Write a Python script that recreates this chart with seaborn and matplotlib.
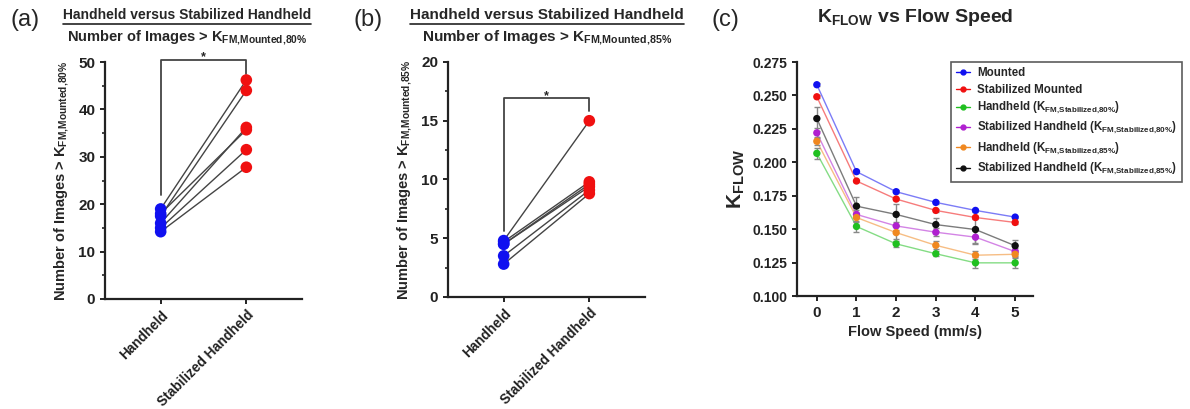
import numpy as np
import pandas as pd
import matplotlib
matplotlib.use('Agg')
import matplotlib.pyplot as plt
from matplotlib.lines import Line2D
from matplotlib.ticker import MultipleLocator
import seaborn as sns

# ── data ──────────────────────────────────────────────────────────
groups = ['Handheld', 'Stabilized Handheld']

# (a) images > K_FM,Mounted,80%
handheld_80 = [19.0, 17.5, 16.0, 18.0, 15.0, 14.2]
stab_handheld_80 = [46.2, 44.0, 36.2, 35.7, 31.5, 27.8]

# (b) images > K_FM,Mounted,85%
handheld_85 = [4.8, 4.7, 4.5, 4.5, 3.5, 2.8]
stab_handheld_85 = [15.0, 9.8, 9.6, 9.4, 9.1, 8.8]

# (c) K_FLOW vs flow speed
flow_speed = [0, 1, 2, 3, 4, 5]
series_names = [
    'Mounted',
    'Stabilized Mounted',
    r'Handheld (K$_{FM{,}Stabilized{,}80\%}$)',
    r'Stabilized Handheld (K$_{FM{,}Stabilized{,}80\%}$)',
    r'Handheld (K$_{FM{,}Stabilized{,}85\%}$)',
    r'Stabilized Handheld (K$_{FM{,}Stabilized{,}85\%}$)',
]
mounted = [0.258, 0.193, 0.178, 0.170, 0.164, 0.159]
stab_mounted = [0.249, 0.186, 0.1725, 0.164, 0.1587, 0.155]
handheld_s80 = [0.2067, 0.152, 0.139, 0.1316, 0.1248, 0.1248]
stab_handheld_s80 = [0.222, 0.161, 0.1524, 0.1477, 0.144, 0.1332]
handheld_s85 = [0.2157, 0.1587, 0.1474, 0.1379, 0.1305, 0.1312]
stab_handheld_s85 = [0.2327, 0.1672, 0.161, 0.1534, 0.1497, 0.1376]

err_mounted = [0.001, 0.001, 0.001, 0.001, 0.001, 0.001]
err_stab_mounted = [0.001, 0.001, 0.001, 0.001, 0.001, 0.001]
err_handheld_s80 = [0.004, 0.004, 0.002, 0.002, 0.004, 0.004]
err_stab_handheld_s80 = [0.004, 0.003, 0.003, 0.003, 0.005, 0.003]
err_handheld_s85 = [0.003, 0.003, 0.005, 0.003, 0.003, 0.003]
err_stab_handheld_s85 = [0.009, 0.007, 0.008, 0.005, 0.010, 0.0045]

series_colors = ['#1010f0', '#f01010', '#20c020', '#b020d0', '#f08820', '#101010']

# ── style ─────────────────────────────────────────────────────────
sns.set_style('ticks')
plt.rcParams['font.family'] = ['Liberation Sans', 'DejaVu Sans']
plt.rcParams['font.weight'] = 'bold'
plt.rcParams['axes.labelweight'] = 'bold'
plt.rcParams['mathtext.fontset'] = 'custom'
for k in ['rm', 'it', 'bf', 'sf']:
    plt.rcParams['mathtext.' + k] = 'Liberation Sans:bold'
plt.rcParams['axes.edgecolor'] = '#222222'
plt.rcParams['axes.linewidth'] = 1.6
plt.rcParams['xtick.major.width'] = 1.4
plt.rcParams['ytick.major.width'] = 1.4
plt.rcParams['ytick.minor.width'] = 1.2
plt.rcParams['xtick.color'] = '#222222'
plt.rcParams['ytick.color'] = '#222222'

W, H = 1190, 409
fig = plt.figure(figsize=(W / 100, H / 100), dpi=100)


def px_axes(left, right, top, bottom):
    return fig.add_axes([left / W, 1 - bottom / H, (right - left) / W, (bottom - top) / H])


def paired_panel(ax, before, after, ymax, minor, bracket, star_y):
    df = pd.DataFrame({
        'pair': list(range(len(before))) * 2,
        'pos': [0] * len(before) + [1] * len(after),
        'group': [groups[0]] * len(before) + [groups[1]] * len(after),
        'value': before + after,
    })
    sns.lineplot(data=df, x='pos', y='value', units='pair', estimator=None,
                 color='#444444', lw=1.0, ax=ax, legend=False)
    sns.scatterplot(data=df, x='pos', y='value', hue='group',
                    palette={groups[0]: '#1010f0', groups[1]: '#f01010'},
                    s=70, edgecolor='none', ax=ax, legend=False, zorder=3, clip_on=False)
    b_top, b_left, b_right = bracket
    ax.plot([0, 0, 1, 1], [b_left, b_top, b_top, b_right], color='#444444', lw=1.3,
            clip_on=False)
    ax.text(0.5, star_y, '*', ha='center', va='center', fontsize=9, clip_on=False)
    ax.set_xlim(-0.65, 1.65)
    ax.set_ylim(0, ymax)
    ax.set_xticks([0, 1])
    ax.set_xticklabels(groups, rotation=45, ha='right', rotation_mode='anchor', fontsize=9.8)
    ax.tick_params(axis='x', pad=3)
    ax.yaxis.set_minor_locator(MultipleLocator(minor))
    ax.tick_params(axis='y', labelsize=11)
    ax.set_xlabel('')
    sns.despine(ax=ax)


# ── (a) ───────────────────────────────────────────────────────────
ax_a = px_axes(105, 302, 62, 299)
paired_panel(ax_a, handheld_80, stab_handheld_80, 50, 5, (50.5, 22, 47.5), 51.1)
ax_a.set_yticks(range(0, 51, 10))
ax_a.set_ylabel(r'Number of Images > K$_{FM{,}Mounted{,}80\%}$', fontsize=10.5, labelpad=5)

# ── (b) ───────────────────────────────────────────────────────────
ax_b = px_axes(448, 645, 62, 297)
paired_panel(ax_b, handheld_85, stab_handheld_85, 20, 2.5, (16.9, 5.6, 15.8), 17.05)
ax_b.set_yticks(range(0, 21, 5))
ax_b.set_ylabel(r'Number of Images > K$_{FM{,}Mounted{,}85\%}$', fontsize=10.5, labelpad=5)

# ── (c) ───────────────────────────────────────────────────────────
ax_c = px_axes(797, 1033, 62, 296)
all_vals = [mounted, stab_mounted, handheld_s80, stab_handheld_s80, handheld_s85, stab_handheld_s85]
all_errs = [err_mounted, err_stab_mounted, err_handheld_s80, err_stab_handheld_s80,
            err_handheld_s85, err_stab_handheld_s85]
long = pd.DataFrame({
    'speed': flow_speed * len(series_names),
    'series': [n for n in series_names for _ in flow_speed],
    'k': [v for vals in all_vals for v in vals],
    'err': [e for errs in all_errs for e in errs],
})
pal = dict(zip(series_names, series_colors))
sns.lineplot(data=long, x='speed', y='k', hue='series', palette=pal, lw=1.0,
             alpha=0.55, ax=ax_c, legend=False)
for name in series_names:
    sub = long[long['series'] == name]
    ax_c.errorbar(sub['speed'], sub['k'], yerr=sub['err'], fmt='none',
                  ecolor='#888888', elinewidth=1.0, capsize=2.5, capthick=1.0, zorder=2)
sns.scatterplot(data=long, x='speed', y='k', hue='series', palette=pal, s=28,
                edgecolor='none', ax=ax_c, legend=False, zorder=4)
ax_c.set_xlim(-0.5, 5.45)
ax_c.set_ylim(0.1, 0.275)
ax_c.set_xticks(flow_speed)
ax_c.set_yticks(np.arange(0.1, 0.2751, 0.025))
ax_c.set_yticklabels([f'{t:.3f}' for t in np.arange(0.1, 0.2751, 0.025)])
ax_c.tick_params(axis='y', labelsize=10)
ax_c.tick_params(axis='x', labelsize=11)
ax_c.set_xlabel('Flow Speed (mm/s)', fontsize=10.5)
ax_c.set_ylabel(r'K$_{FLOW}$', fontsize=15, labelpad=4)
sns.despine(ax=ax_c)

handles = [Line2D([0], [0], color=c, lw=1.0, marker='o', markersize=3.5,
                  markerfacecolor=c, markeredgecolor=c) for c in series_colors]
leg = fig.legend(handles, series_names, loc='upper left',
                 bbox_to_anchor=(951 / W, 1 - 62 / H), fontsize=8.3,
                 frameon=True, fancybox=False, edgecolor='#333333',
                 handlelength=1.2, handletextpad=0.6, borderpad=0.45,
                 labelspacing=0.38, borderaxespad=0)
leg.get_frame().set_linewidth(1.2)

# ── titles ────────────────────────────────────────────────────────
fig.text(25 / W, 1 - 20 / H, '(a)', fontsize=17, fontweight='normal', ha='center', va='center')
fig.text(368 / W, 1 - 20 / H, '(b)', fontsize=17, fontweight='normal', ha='center', va='center')
fig.text(725 / W, 1 - 20 / H, '(c)', fontsize=17, fontweight='normal', ha='center', va='center')

underlined = [
    fig.text(187 / W, 1 - 15 / H, 'Handheld versus Stabilized Handheld', fontsize=10,
             ha='center', va='center'),
    fig.text(547 / W, 1 - 15 / H, 'Handheld versus Stabilized Handheld', fontsize=11,
             ha='center', va='center'),
]
fig.text(187 / W, 1 - 38 / H, r'Number of Images > K$_{FM{,}Mounted{,}80\%}$', fontsize=10.5,
         ha='center', va='center')
fig.text(547 / W, 1 - 38 / H, r'Number of Images > K$_{FM{,}Mounted{,}85\%}$', fontsize=11,
         ha='center', va='center')
fig.text(915 / W, 1 - 18 / H, r'K$_{FLOW}$ vs Flow Speed', fontsize=14,
         ha='center', va='center')

fig.canvas.draw()
renderer = fig.canvas.get_renderer()
for t in underlined:
    bb = t.get_window_extent(renderer)
    y = (bb.y0 - 1.5) / (H)
    fig.add_artist(Line2D([bb.x0 / W, bb.x1 / W], [y, y], color='#222222', lw=1.2))

fig.savefig('out.png', dpi=100)
